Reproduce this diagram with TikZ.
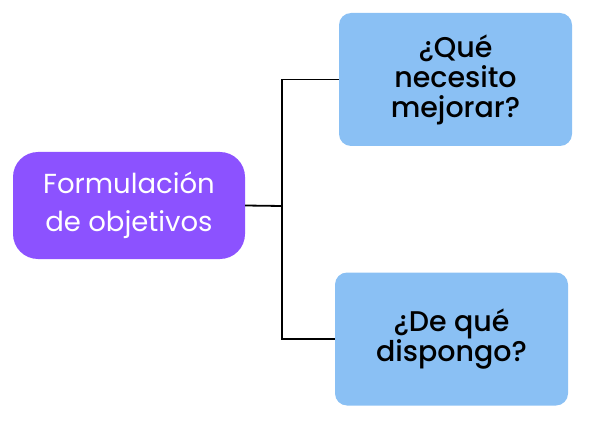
\documentclass[tikz,border=0pt]{standalone}
\usepackage{fontspec}
\setmainfont{Poppins}
\newfontfamily\qfont{Poppins Medium}
\definecolor{purpleobj}{HTML}{8C52FF}
\definecolor{bluebox}{HTML}{8AC0F4}
\tikzset{
	mainbox/.style={rounded corners=25pt, fill=purpleobj, text=white, align=center, minimum width=232pt, minimum height=107pt, font=\fontsize{27.5}{38}\selectfont},
	qbox/.style={rounded corners=12pt, fill=bluebox, text=black, align=center, minimum width=233pt, minimum height=133pt, font=\qfont\fontsize{28.5}{30}\selectfont},
	link/.style={line width=1.8pt, black}
}
\begin{document}
\begin{tikzpicture}[x=1pt, y=-1pt]
	\useasboundingbox (0,0) rectangle (589,422);
	\node at (129,205.5) [mainbox] (form) {Formulación\\de objetivos};
	\node at (455.5,79.5) [qbox] (mejorar) {¿Qué\\necesito\\mejorar?};
	\node at (451.5,339) [qbox] (dispongo) {¿De qué\\dispongo?};
	\coordinate (j) at (282,206);
	
	\draw [link] (form.east) -- (j);
	\draw [link] (j) |- (mejorar.west);
	\draw [link] (j) |- (dispongo.west);
\end{tikzpicture}
\end{document}
